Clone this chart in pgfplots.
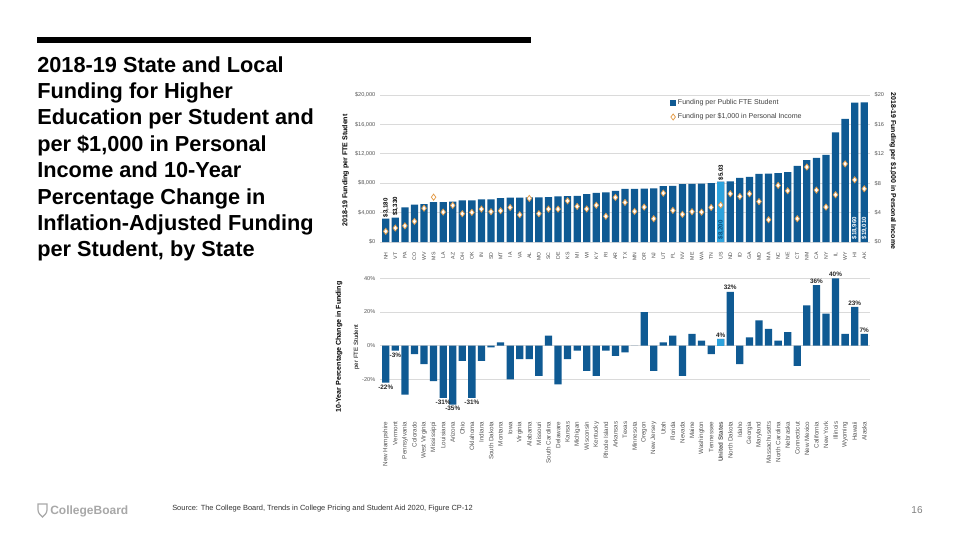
\documentclass[border=0pt]{standalone}
\usepackage{pgfplots}
\usepackage{pgfplotstable}
\pgfplotsset{compat=1.18}
\usepackage{fontspec}
\setmainfont{Liberation Sans}
\definecolor{cbblue}{HTML}{0F5A93}
\definecolor{cblight}{HTML}{2DA2DC}
\definecolor{cborange}{HTML}{E39A45}
\definecolor{gridgray}{HTML}{DADADA}
\definecolor{ticktext}{HTML}{555555}
\definecolor{logogray}{HTML}{A8A8A8}
\newcommand\fs[1]{\fontsize{#1}{#1}\selectfont}

% idx, funding per FTE, funding per $1,000 income, 10-year change (%)
\pgfplotstableread{
idx fte inc chg
0 3180 1.45 -22
1 3330 1.90 -3
2 4710 2.20 -29
3 5070 2.80 -5
4 5160 4.60 -11
5 5430 6.10 -21
6 5440 4.07 -31
7 5480 4.98 -35
8 5650 3.85 -9
9 5660 4.03 -31
10 5790 4.48 -9
11 5800 4.12 -1
12 5980 4.25 2
13 6030 4.70 -20
14 6040 3.70 -8
15 6060 5.93 -8
16 6080 3.85 -18
17 6110 4.48 6
18 6200 4.48 -23
19 6250 5.60 -8
20 6290 4.84 -3
21 6520 4.50 -15
22 6700 5.00 -18
23 6740 3.50 -3
24 6970 6.06 -6
25 7230 5.38 -4
26 7240 4.16 0
27 7250 4.75 20
28 7290 3.17 -15
29 7600 6.65 2
30 7650 4.30 6
31 7870 3.76 -18
32 7920 4.12 7
33 7930 4.07 3
34 8010 4.70 -5
35 8200 5.03 4
36 8240 6.56 32
37 8730 6.20 -11
38 8870 6.56 5
39 9280 5.50 15
40 9320 3.03 10
41 9370 7.70 3
42 9500 6.97 8
43 10360 3.17 -12
44 11130 10.20 24
45 11450 7.06 36
46 11860 4.75 19
47 14930 6.43 40
48 16740 10.63 7
49 18960 8.46 23
50 19010 7.24 7
}\statedata

\pgfplotsset{
  common/.style={
    scale only axis, width=367.5pt,
    xmin=-0.6, xmax=50.6,
    axis line style={draw=none}, tick style={draw=none},
    grid style={gridgray, line width=0.5pt},
    yticklabel style={font=\fs{4.2}, text=ticktext},
    xtick={0,...,50},
    clip=false,
  },
}

\begin{document}
\begin{tikzpicture}
\fill[white] (0,0) rectangle (720pt,-405pt);

\begin{scope}[x=0.75pt, y=-0.75pt]
  \fill[black] (37,37) rectangle (531,43);
  \foreach \t [count=\i from 0] in {2018-19 State and Local, Funding for Higher,
      Education per Student and, {per \$1,000 in Personal}, Income and 10-Year,
      Percentage Change in, Inflation-Adjusted Funding, {per Student, by State}}
    \node[anchor=base west, inner sep=0pt, font=\bfseries\fs{16.3}] at (37,72+26.4*\i) {\t};

  % axis titles
  \node[rotate=90, font=\bfseries\fs{5.3}] at (345.5,170.5) {2018-19 Funding per FTE Student};
  \node[rotate=-90, font=\bfseries\fs{5.2}] at (893,171) {2018-19 Funding per \$1,000 in Personal Income};
  \node[rotate=90, align=center, inner sep=0pt] at (347.5,347)
    {{\bfseries\fs{5.3}10-Year Percentage Change in Funding}\\[1pt]{\fs{4.6}per FTE Student}};

  % footer
  \draw[logogray, line width=0.9pt] (38,504) -- (47,504) -- (47,510) .. controls (47,514) and (43,516) .. (42.5,517)
        .. controls (42,516) and (38,514) .. (38,510) -- cycle;
  \node[anchor=base west, inner sep=0pt, text=logogray, font=\bfseries\fs{9}] at (50,514) {CollegeBoard};
  \node[anchor=base west, inner sep=0pt, text=black!80, font=\fs{5.6}] at (172,510)
    {Source: The College Board, Trends in College Pricing and Student Aid 2020, Figure CP-12};
  \node[anchor=base, inner sep=0pt, text=black!50, font=\fs{7.5}] at (917,513) {16};
\end{scope}

% ---- top: funding per FTE student
\begin{axis}[common,
  at={(285pt,-181.5pt)}, anchor=south west, height=110.25pt,
  ymin=0, ymax=20000, scaled y ticks=false,
  ymajorgrids,
  ytick={0,4000,...,20000},
  yticklabels={\$0,{\$4,000},{\$8,000},{\$12,000},{\$16,000},{\$20,000}},
  xticklabels={NH,VT,PA,CO,WV,MS,LA,AZ,OH,OK,IN,SD,MT,IA,VA,AL,MO,SC,DE,KS,MI,WI,KY,RI,AR,TX,MN,OR,NJ,UT,FL,NV,ME,WA,TN,US,ND,ID,GA,MD,MA,NC,NE,CT,NM,CA,NY,IL,WY,HI,AK},
  xticklabel style={rotate=90, anchor=east, font=\fs{3.9}, text=black!70},
  ybar, bar width=0.76,
]
\addplot[fill=cbblue, draw=none, bar shift=0pt] table[x=idx, y=fte] {\statedata};
\addplot[fill=cblight, draw=none, bar shift=0pt] coordinates {(35,8200)};
\begin{scope}[font=\bfseries\fs{4.6}, inner sep=1pt]
  \node[rotate=90, anchor=west] at (axis cs:0,3180) {\$3,180};
  \node[rotate=90, anchor=west] at (axis cs:1,3330) {\$3,330};
  \node[rotate=90, anchor=west] at (axis cs:35,8200) {\$5.03};
  \node[rotate=90, anchor=west, text=cbblue!80!black] at (axis cs:35,150) {\$8,200};
  \node[rotate=90, anchor=west, text=white] at (axis cs:49,150) {\$18,960};
  \node[rotate=90, anchor=west, text=white] at (axis cs:50,150) {\$19,010};
\end{scope}
\end{axis}

% ---- top: funding per $1,000 personal income (right axis)
\begin{axis}[common,
  at={(285pt,-181.5pt)}, anchor=south west, height=110.25pt,
  ymin=0, ymax=20,
  axis x line=none, axis y line*=right,
  ytick={0,4,...,20},
  yticklabels={\$0,\$4,\$8,\$12,\$16,\$20},
  legend style={at={(0.592,0.986)}, anchor=north west, draw=none, fill=none,
    font=\fs{5.3}, text=black!75, row sep=2.2pt, cells={anchor=west}, inner sep=0pt,
    nodes={inner sep=1.5pt}},
  legend cell align=left,
]
\addlegendimage{legend image code/.code={\fill[cbblue] (0pt,-1.9pt) rectangle (3.8pt,1.9pt);}}
\addlegendentry{Funding per Public FTE Student}
\addplot[only marks, mark=diamond*, mark size=2.3pt,
  mark options={fill=white, draw=cborange, line width=0.55pt},
  legend image code/.code={\draw[mark=diamond*, mark size=2.3pt, mark options={fill=white, draw=cborange, line width=0.55pt}]
    plot coordinates {(1.9pt,0pt)};}] table[x=idx, y=inc] {\statedata};
\addlegendentry{Funding per \$1,000 in Personal Income}
\end{axis}

% ---- bottom: 10-year percentage change
\begin{axis}[common,
  at={(285pt,-308.5pt)}, anchor=south west, height=101pt,
  ymin=-39, ymax=41,
  ymajorgrids,
  ytick={-20,0,20,40},
  yticklabels={-20\%,0\%,20\%,40\%},
  xticklabels={New Hampshire,Vermont,Pennsylvania,Colorado,West Virginia,Mississippi,Louisiana,Arizona,Ohio,Oklahoma,Indiana,South Dakota,Montana,Iowa,Virginia,Alabama,Missouri,South Carolina,Delaware,Kansas,Michigan,Wisconsin,Kentucky,Rhode Island,Arkansas,Texas,Minnesota,Oregon,New Jersey,Utah,Florida,Nevada,Maine,Washington,Tennessee,\textbf{United States},North Dakota,Idaho,Georgia,Maryland,Massachusetts,North Carolina,Nebraska,Connecticut,New Mexico,California,New York,Illinois,Wyoming,Hawaii,Alaska},
  xticklabel style={rotate=90, anchor=east, font=\fs{4.7}, text=ticktext},
  ybar, bar width=0.76,
]
\addplot[fill=cbblue, draw=none, bar shift=0pt] table[x=idx, y=chg] {\statedata};
\addplot[fill=cblight, draw=none, bar shift=0pt] coordinates {(35,4)};
\begin{scope}[font=\bfseries\fs{4.8}, inner sep=1.2pt, text=black!85]
  \node[anchor=north] at (axis cs:0,-22) {-22\%};
  \node[anchor=north] at (axis cs:1,-3) {-3\%};
  \node[anchor=north] at (axis cs:6,-31) {-31\%};
  \node[anchor=north] at (axis cs:7,-35) {-35\%};
  \node[anchor=north] at (axis cs:9,-31) {-31\%};
  \node[anchor=south] at (axis cs:35,4) {4\%};
  \node[anchor=south] at (axis cs:36,32) {32\%};
  \node[anchor=south] at (axis cs:45,36) {36\%};
  \node[anchor=south] at (axis cs:47,40) {40\%};
  \node[anchor=south] at (axis cs:49,23) {23\%};
  \node[anchor=south] at (axis cs:50,7) {7\%};
\end{scope}
\end{axis}
\end{tikzpicture}
\end{document}
